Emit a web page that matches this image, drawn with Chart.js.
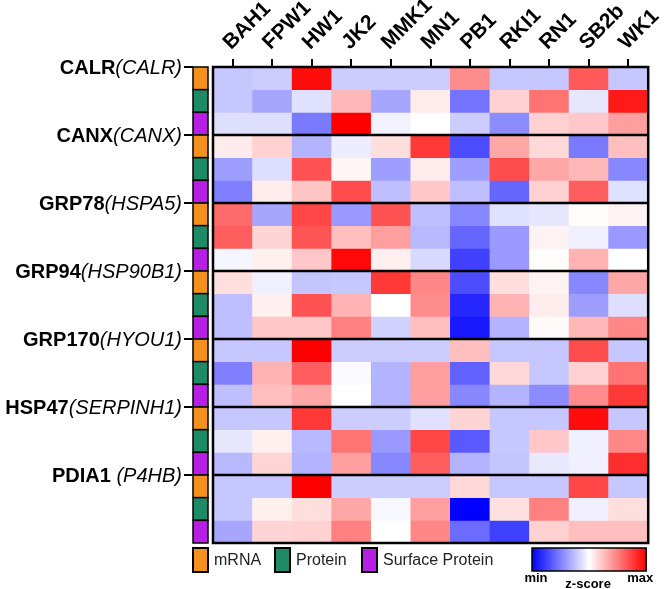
<!DOCTYPE html>
<html>
<head>
<meta charset="utf-8">
<script src="https://cdn.jsdelivr.net/npm/chart.js@4.4.0/dist/chart.umd.min.js"></script>
<style>
  html, body { margin: 0; padding: 0; background: #fff; }
</style>
</head>
<body>
<canvas id="heatmap" width="666" height="589"></canvas>
<script>
// column / row labels
const cellLines = ['BAH1', 'FPW1', 'HW1', 'JK2', 'MMK1', 'MN1', 'PB1', 'RKI1', 'RN1', 'SB2b', 'WK1'];
const proteins = ['CALR', 'CANX', 'GRP78', 'GRP94', 'GRP170', 'HSP47', 'PDIA1 '];
const genes = ['(CALR)', '(CANX)', '(HSPA5)', '(HSP90B1)', '(HYOU1)', '(SERPINH1)', '(P4HB)'];
const dataTypes = ['mRNA', 'Protein', 'Surface Protein'];

// scaled z-scores (-1 = min, 1 = max); rows: mRNA, Protein, Surface Protein
const calr = [
  [-0.22, -0.2, 0.95, -0.2, -0.2, -0.2, 0.45, -0.22, -0.22, 0.65, -0.22],
  [-0.22, -0.35, -0.12, 0.28, -0.35, 0.08, -0.55, 0.18, 0.55, -0.1, 0.9],
  [-0.13, -0.13, -0.52, 1.0, -0.05, 0, -0.2, -0.45, 0.18, 0.22, 0.38]
];
const canx = [
  [0.08, 0.18, -0.3, -0.07, 0.13, 0.78, -0.7, 0.35, 0.15, -0.52, 0.25],
  [-0.38, -0.13, 0.68, 0.04, -0.38, 0.08, -0.38, 0.7, 0.35, 0.28, -0.47],
  [-0.5, 0.07, 0.23, 0.7, -0.25, 0.22, -0.25, -0.6, 0.18, 0.63, -0.12]
];
const grp78 = [
  [0.58, -0.35, 0.72, -0.4, 0.68, -0.25, -0.47, -0.12, -0.1, 0.01, 0.05],
  [0.63, 0.17, 0.67, 0.25, 0.38, -0.28, -0.6, -0.4, 0.05, -0.06, -0.4],
  [-0.04, 0.06, 0.22, 0.97, 0.06, -0.15, -0.75, -0.4, 0.01, 0.3, 0]
];
const grp94 = [
  [0.13, -0.06, -0.23, -0.22, 0.78, 0.47, -0.7, 0.13, 0.05, -0.47, 0.35],
  [-0.25, 0.06, 0.68, 0.3, 0, 0.45, -0.85, 0.3, 0.07, -0.38, -0.13],
  [-0.25, 0.22, 0.22, 0.5, -0.18, 0.25, -0.9, -0.3, 0.02, 0.28, 0.47]
];
const grp170 = [
  [-0.22, -0.22, 1.0, -0.2, -0.2, -0.2, 0.25, -0.22, -0.22, 0.7, -0.22],
  [-0.5, 0.3, 0.63, -0.02, -0.3, 0.38, -0.62, 0.15, -0.22, 0.18, 0.55],
  [-0.25, 0.25, 0.35, 0, -0.3, 0.38, -0.47, -0.3, -0.45, 0.45, 0.78]
];
const hsp47 = [
  [-0.22, -0.22, 0.78, -0.2, -0.2, -0.12, 0.17, -0.22, -0.22, 0.95, -0.22],
  [-0.1, 0.06, -0.28, 0.55, -0.4, 0.72, -0.65, -0.22, 0.22, -0.06, 0.47],
  [-0.28, 0.17, -0.3, 0.38, -0.47, 0.63, -0.3, -0.23, -0.09, -0.06, 0.82]
];
const pdia1 = [
  [-0.22, -0.22, 1.0, -0.2, -0.2, -0.2, 0.15, -0.22, -0.22, 0.72, -0.22],
  [-0.22, 0.06, 0.13, 0.35, -0.03, 0.38, -1.0, 0.12, 0.5, -0.06, 0.13],
  [-0.35, 0.17, 0.18, 0.5, 0, 0.47, -0.58, -0.75, 0.18, 0.25, 0.25]
];

const typeColors = ['#f4901c', '#1f8a66', '#b81fe4'];
const FONT = '"Liberation Sans", Arial, Helvetica, sans-serif';

// blue -> white -> red
function zColor(v) {
  if (v < 0) {
    const c = Math.round(255 * (1 + v));
    return `rgb(${c},${c},255)`;
  }
  const c = Math.round(255 * (1 - v));
  return `rgb(255,${c},${c})`;
}

const rows = [calr, canx, grp78, grp94, grp170, hsp47, pdia1].flat();

const datasets = rows.map((vals, r) => ({
  label: proteins[Math.floor(r / 3)] + ' ' + dataTypes[r % 3],
  data: vals.map(() => [r, r + 1]),
  backgroundColor: vals.map(zColor),
  borderWidth: 0,
  barPercentage: 1,
  categoryPercentage: 1,
  grouped: false
}));

// side strip, group labels, separators and legend
const annotations = {
  id: 'annotations',
  afterDraw(chart) {
    const ctx = chart.ctx;
    const { left, right, top, bottom } = chart.chartArea;
    const y = chart.scales.y;
    const stripL = left - 20, stripR = left - 5;

    ctx.save();
    // data type strip
    ctx.lineWidth = 1.5;
    ctx.strokeStyle = '#000';
    for (let r = 0; r < rows.length; r++) {
      const y0 = y.getPixelForValue(r), y1 = y.getPixelForValue(r + 1);
      ctx.fillStyle = typeColors[r % 3];
      ctx.fillRect(stripL, y0, stripR - stripL, y1 - y0);
      ctx.strokeRect(stripL, y0, stripR - stripL, y1 - y0);
    }

    // group labels + ticks
    ctx.lineWidth = 2;
    ctx.textBaseline = 'middle';
    ctx.fillStyle = '#000';
    proteins.forEach((p, g) => {
      const ty = y.getPixelForValue(g * 3);
      ctx.beginPath();
      ctx.moveTo(stripL - 9, ty);
      ctx.lineTo(stripL, ty);
      ctx.stroke();
      const xEnd = stripL - 11;
      ctx.font = 'italic 20px ' + FONT;
      const w2 = ctx.measureText(genes[g]).width;
      ctx.textAlign = 'right';
      ctx.fillText(genes[g], xEnd, ty + 1);
      ctx.font = 'bold 20px ' + FONT;
      ctx.fillText(p, xEnd - w2, ty + 1);
    });

    // heatmap separators and frame
    ctx.lineWidth = 2.5;
    for (let g = 1; g < proteins.length; g++) {
      const sy = y.getPixelForValue(g * 3);
      ctx.beginPath();
      ctx.moveTo(left, sy);
      ctx.lineTo(right, sy);
      ctx.stroke();
    }
    ctx.strokeRect(left, top, right - left, bottom - top);

    // legend
    const ly = bottom + 5, lh = 24;
    ctx.font = '16px ' + FONT;
    ctx.textAlign = 'left';
    let lx = stripL;
    const gaps = [82, 87, 0];
    dataTypes.forEach((t, i) => {
      ctx.fillStyle = typeColors[i];
      ctx.fillRect(lx, ly, 15, lh);
      ctx.lineWidth = 2;
      ctx.strokeRect(lx, ly, 15, lh);
      ctx.fillStyle = '#222';
      ctx.fillText(t, lx + 21, ly + lh / 2 + 1);
      lx += gaps[i];
    });

    // colour bar
    const cbL = 532, cbR = right - 2;
    const grad = ctx.createLinearGradient(cbL, 0, cbR, 0);
    grad.addColorStop(0, zColor(-1));
    grad.addColorStop(0.5, zColor(0));
    grad.addColorStop(1, zColor(1));
    ctx.fillStyle = grad;
    ctx.fillRect(cbL, ly, cbR - cbL, lh - 1);
    ctx.lineWidth = 1.5;
    ctx.strokeRect(cbL, ly, cbR - cbL, lh - 1);
    ctx.fillStyle = '#000';
    ctx.font = 'bold 13px ' + FONT;
    ctx.textAlign = 'center';
    ctx.fillText('min', cbL + 4, ly + lh + 6);
    ctx.fillText('max', cbR - 6, ly + lh + 6);
    ctx.fillText('z-score', (cbL + cbR) / 2 - 1, ly + lh + 12);
    ctx.restore();
  }
};

new Chart(document.getElementById('heatmap').getContext('2d'), {
  type: 'bar',
  data: { labels: cellLines, datasets },
  options: {
    responsive: false,
    animation: false,
    layout: { padding: { left: 213, right: 13, top: 0, bottom: 46 } },
    plugins: { legend: { display: false }, tooltip: { enabled: false } },
    scales: {
      x: {
        position: 'top',
        offset: true,
        grid: { offset: false, drawOnChartArea: false, drawTicks: true, tickLength: 8, color: '#000', lineWidth: 2 },
        border: { display: false },
        ticks: {
          color: '#000',
          font: { family: FONT, size: 21, weight: 'bold' },
          minRotation: 45,
          maxRotation: 45,
          autoSkip: false,
          padding: 4,
          labelOffset: 12
        },
        afterFit(scale) { scale.height = 67; }
      },
      y: { type: 'linear', min: 0, max: 21, reverse: true, display: false }
    }
  },
  plugins: [annotations]
});
</script>
</body>
</html>
